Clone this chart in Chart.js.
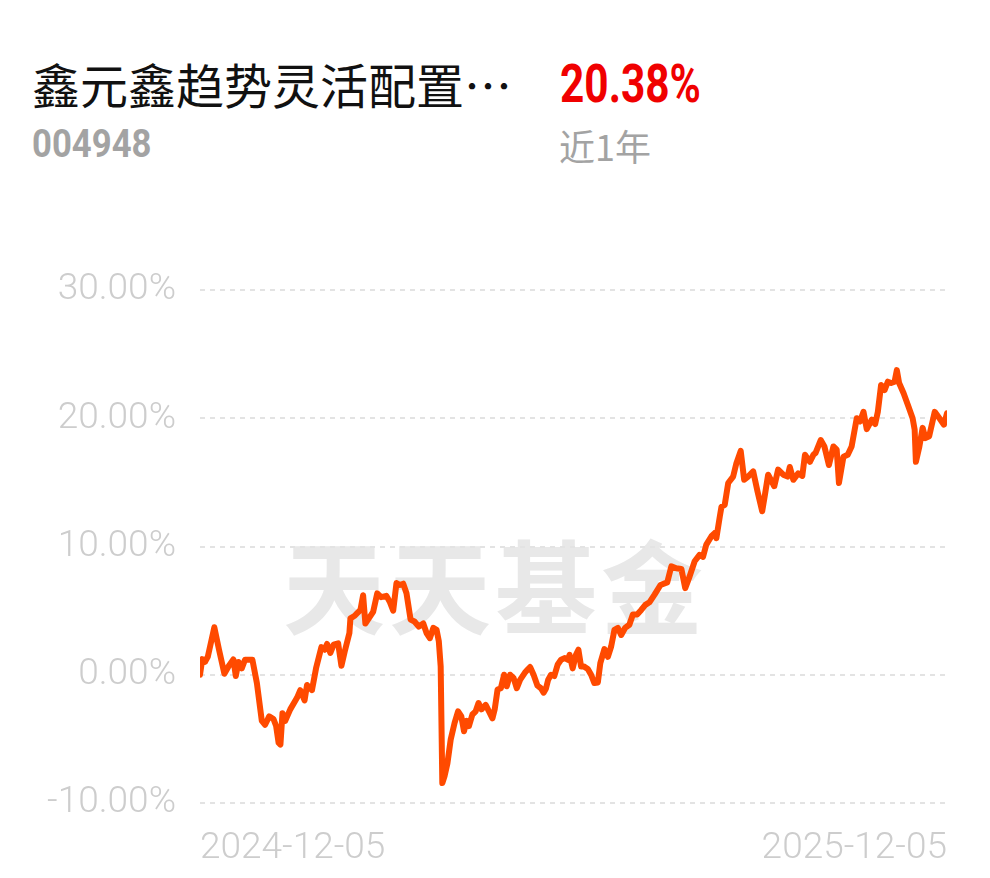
<!DOCTYPE html>
<html>
<head>
<meta charset="utf-8">
<script src="https://cdn.jsdelivr.net/npm/chart.js@4/dist/chart.umd.min.js"></script>
<style>
  html, body { margin: 0; padding: 0; background: #fff; }
  body { width: 990px; height: 878px; position: relative; overflow: hidden; }
  .abs { position: absolute; white-space: nowrap; line-height: 1; }
  #title { left: 32px; top: 59px; font-size: 48px; font-family: "Noto Sans CJK SC", sans-serif; color: #111; }
  #code { left: 32px; top: 125px; font-size: 39px; font-family: Roboto, sans-serif; font-weight: 700; color: #a3a3a3; transform: scaleX(0.89); transform-origin: left top; }
  #ret { left: 560px; top: 58px; font-size: 53px; font-family: Roboto, sans-serif; font-weight: 700; color: #f00000; transform: scaleX(0.8); transform-origin: left top; }
  #period { left: 559px; top: 127px; font-size: 36px; font-family: "Noto Sans CJK SC", sans-serif; color: #a3a3a3; }
  #wm { left: 283px; top: 532px; font-size: 102px; font-family: "Noto Sans CJK SC", serif; font-weight: 700; color: #e8e8e8; letter-spacing: 4px; z-index: 0; }
  #wrap { position: absolute; left: 0; top: 0; width: 990px; height: 878px; z-index: 1; }
</style>
</head>
<body>
<div class="abs" id="title">鑫元鑫趋势灵活配置…</div>
<div class="abs" id="code">004948</div>
<div class="abs" id="ret">20.38%</div>
<div class="abs" id="period">近1年</div>
<div class="abs" id="wm">天天基金</div>
<div id="wrap"><canvas id="c" width="990" height="878"></canvas></div>
<script>
// x: days since 2024-12-05, y: cumulative return (%)
const days = [0.0,1.1,2.4,3.8,7.0,9.3,11.9,13.9,16.3,17.5,18.8,20.4,22.0,25.6,27.8,30.2,31.8,33.8,35.9,37.2,38.4,39.3,40.3,41.6,44.1,47.4,49.0,51.1,52.3,54.7,56.7,59.3,60.9,62.1,63.7,65.3,67.5,69.1,70.7,73.0,73.5,75.6,76.8,78.4,79.7,80.8,82.5,84.6,86.6,88.5,91.1,92.7,94.4,96.0,97.6,99.3,100.9,102.9,104.8,106.9,109.1,110.7,112.3,114.0,115.6,116.7,117.6,118.4,119.5,120.9,122.5,124.4,126.1,127.7,129.0,130.3,131.4,133.1,134.7,136.1,137.5,139.6,141.2,142.9,144.0,145.4,147.0,148.6,149.9,151.5,153.2,154.8,156.4,158.7,160.1,161.3,163.0,164.9,166.6,167.9,169.0,170.1,171.5,173.1,174.8,176.4,178.3,179.7,180.6,182.1,183.7,184.9,186.2,187.5,189.5,191.1,192.7,194.4,195.6,197.6,199.3,200.9,202.5,204.2,205.8,207.7,209.8,211.5,213.6,215.6,217.6,219.6,222.1,225.0,228.3,230.3,232.7,235.2,237.1,239.2,241.7,244.1,245.8,247.4,249.9,251.5,252.3,254.0,254.8,256.4,258.1,260.5,262.1,264.2,265.9,267.8,270.3,272.4,274.7,276.0,277.6,280.6,282.5,285.0,287.1,288.2,289.9,292.3,294.3,295.6,298.0,299.7,300.8,303.3,305.1,307.3,309.5,311.1,312.2,314.4,316.5,318.4,320.9,322.5,324.2,325.8,328.3,329.9,331.2,332.8,334.5,336.1,337.7,339.4,340.5,341.6,343.8,346.2,348.2,349.2,349.8,351.5,353.1,354.4,356.3,359.0,361.3,363.5,365.0];
const returns = [0.00,1.22,1.00,1.40,3.70,1.95,0.08,0.65,1.20,-0.10,1.00,0.50,1.17,1.17,-0.65,-3.60,-3.90,-3.25,-3.45,-4.00,-5.30,-5.45,-3.00,-3.60,-2.70,-1.80,-1.20,-2.00,-0.80,-1.20,0.50,2.15,1.95,2.40,1.70,2.35,2.45,0.70,1.80,3.25,4.40,4.60,4.80,5.05,6.20,4.00,4.40,4.90,6.35,6.05,6.15,5.70,5.00,7.15,7.00,7.10,6.35,4.30,4.15,3.75,4.00,3.25,2.85,3.65,3.50,2.60,0.65,-8.45,-7.90,-6.90,-5.05,-3.75,-2.85,-3.25,-4.40,-3.60,-4.00,-3.10,-2.85,-2.20,-2.70,-2.35,-2.85,-3.40,-2.70,-1.15,-1.05,0.00,-0.90,0.00,-0.25,-1.05,-0.40,0.15,0.40,0.60,0.00,-0.85,-1.05,-1.40,-1.10,-0.40,0.00,-0.10,0.80,1.17,1.30,1.17,1.55,0.50,1.55,1.95,0.65,0.65,0.45,0.00,-0.65,-0.60,0.90,2.00,1.40,2.20,3.50,3.65,3.10,3.65,3.90,4.70,4.70,5.05,5.45,5.65,6.25,7.00,7.20,8.45,8.30,8.25,6.75,7.65,8.85,9.35,9.20,10.15,10.80,11.05,10.65,12.35,13.10,13.25,14.95,15.45,16.50,17.45,15.20,15.45,15.85,14.30,12.75,14.00,15.60,14.70,16.00,15.60,15.45,16.20,15.20,15.70,15.50,17.15,16.60,17.15,17.30,18.30,17.80,16.35,17.80,17.55,14.95,17.00,17.15,17.80,20.00,19.75,20.50,19.15,19.90,19.55,20.50,22.60,22.20,22.85,22.75,22.85,23.75,22.75,21.95,20.90,20.00,19.10,16.60,17.80,19.25,18.45,18.60,20.50,20.00,19.50,20.38];
const xTickDays = [0, 365];
const xTickLabels = ['2024-12-05', '2025-12-05'];
const yTicks = [-10, 0, 10, 20, 30];

const points = days.map((d, i) => ({ x: d, y: returns[i] }));
const tickFont = { family: 'Roboto', size: 37, weight: '300' };

new Chart(document.getElementById('c'), {
  type: 'line',
  data: {
    datasets: [{
      data: points,
      borderColor: '#ff4a00',
      borderWidth: 6,
      pointRadius: 0,
      tension: 0,
      borderJoinStyle: 'round',
      borderCapStyle: 'round',
      fill: false
    }]
  },
  options: {
    responsive: false,
    animation: false,
    devicePixelRatio: 1,
    layout: { padding: { top: 290, right: 43, left: 0, bottom: 0 } },
    plugins: { legend: { display: false }, tooltip: { enabled: false } },
    scales: {
      x: {
        type: 'linear',
        min: xTickDays[0],
        max: xTickDays[xTickDays.length - 1],
        afterBuildTicks: s => { s.ticks = xTickDays.map(v => ({ value: v })); },
        afterFit: s => { s.height = 75; },
        grid: { display: false, drawTicks: false },
        border: { display: false },
        ticks: {
          align: 'inner',
          maxRotation: 0,
          autoSkip: false,
          padding: 24,
          color: '#cdcdcd',
          font: tickFont,
          callback: v => { const i = xTickDays.indexOf(v); return i >= 0 ? xTickLabels[i] : ''; }
        }
      },
      y: {
        min: yTicks[0],
        max: yTicks[yTicks.length - 1],
        afterBuildTicks: s => { s.ticks = yTicks.map(v => ({ value: v })); },
        afterFit: s => { s.width = 200; },
        grid: { color: '#e3e3e3', lineWidth: 2, drawTicks: false },
        border: { display: false, dash: [5, 5] },
        ticks: {
          padding: 24,
          color: '#cdcdcd',
          font: tickFont,
          callback: v => v.toFixed(2) + '%'
        }
      }
    }
  }
});
</script>
</body>
</html>
